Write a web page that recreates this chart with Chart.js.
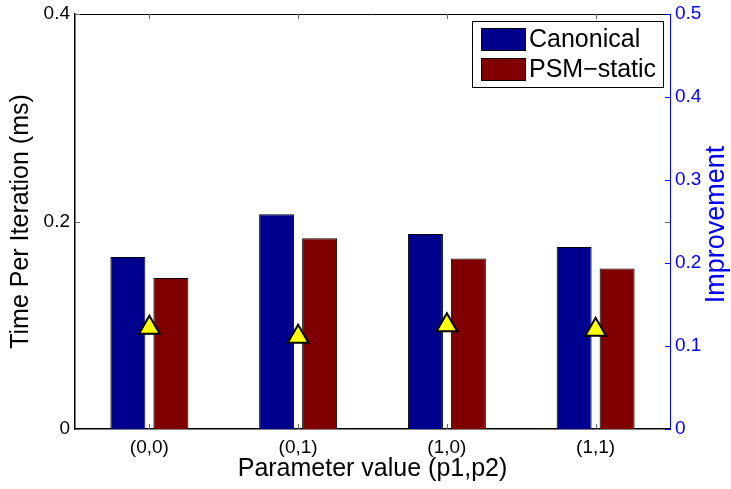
<!DOCTYPE html>
<html>
<head>
<meta charset="utf-8">
<title>Time per iteration</title>
<script src="https://cdn.jsdelivr.net/npm/chart.js@4/dist/chart.umd.min.js"></script>
<style>
  html, body { margin: 0; padding: 0; background: #ffffff; }
  #wrap { width: 731px; height: 489px; }
</style>
</head>
<body>
<div id="wrap"><canvas id="chart" width="731" height="489"></canvas></div>
<script>
// Parameter settings on the x axis
const categories = ['(0,0)', '(0,1)', '(1,0)', '(1,1)'];
// Time per iteration (ms)
const canonical = [0.1657, 0.2069, 0.188, 0.1755];
const psmStatic = [0.1455, 0.1839, 0.1643, 0.1547];
// Relative improvement (right axis)
const improvement = [0.122, 0.111, 0.125, 0.1195];
// Tick values
const leftTicks = [0, 0.2, 0.4];
const rightTicks = [0, 0.1, 0.2, 0.3, 0.4, 0.5];

const FONT = '"Liberation Sans", Arial, Helvetica, sans-serif';
const BLUE_AXIS = '#0000ff';

// Inward tick marks, top frame line, right-hand title and the boxed legend
const framePlugin = {
  id: 'frame',
  afterDraw(chart) {
    const ctx = chart.ctx;
    const a = chart.chartArea;
    const xs = chart.scales.x, ys = chart.scales.y, y1 = chart.scales.y1;
    const len = 5;
    ctx.save();
    // top frame
    ctx.strokeStyle = '#000000';
    ctx.lineWidth = 1;
    ctx.beginPath();
    ctx.moveTo(a.left, a.top + 0.5);
    ctx.lineTo(a.right, a.top + 0.5);
    ctx.stroke();

    // left-scale ticks, mirrored on the right side
    ctx.strokeStyle = '#666666';
    ctx.beginPath();
    leftTicks.forEach(v => {
      const py = Math.round(ys.getPixelForValue(v)) + 0.5;
      ctx.moveTo(a.left, py); ctx.lineTo(a.left + len, py);
      ctx.moveTo(a.right, py); ctx.lineTo(a.right - len, py);
    });
    // category ticks, bottom and top
    categories.forEach((c, i) => {
      const px = Math.round(xs.getPixelForValue(i)) + 0.5;
      ctx.moveTo(px, a.bottom); ctx.lineTo(px, a.bottom - len);
      ctx.moveTo(px, a.top); ctx.lineTo(px, a.top + len);
    });
    ctx.stroke();

    // right-scale ticks
    ctx.strokeStyle = BLUE_AXIS;
    ctx.beginPath();
    rightTicks.forEach(v => {
      const py = Math.round(y1.getPixelForValue(v)) + 0.5;
      ctx.moveTo(a.right, py); ctx.lineTo(a.right - len, py);
    });
    ctx.stroke();

    // right axis title, reading bottom to top
    ctx.fillStyle = BLUE_AXIS;
    ctx.font = '27px ' + FONT;
    ctx.textAlign = 'center';
    ctx.textBaseline = 'middle';
    ctx.translate(717, (a.top + a.bottom) / 2 + 3);
    ctx.rotate(-Math.PI / 2);
    ctx.fillText('Improvement', 0, 0);
    ctx.restore();

    // legend box for the bar series
    ctx.save();
    const bw = 191, bh = 66;
    const bx = a.right - 7 - bw, by = a.top + 7;
    ctx.fillStyle = '#ffffff';
    ctx.fillRect(bx, by, bw, bh);
    ctx.strokeStyle = '#000000';
    ctx.lineWidth = 1;
    ctx.strokeRect(bx + 0.5, by + 0.5, bw, bh);
    ctx.font = '25px ' + FONT;
    ctx.textAlign = 'left';
    ctx.textBaseline = 'middle';
    const bars = chart.data.datasets.filter(d => d.type === 'bar');
    bars.forEach((d, i) => {
      const sy = by + 7 + i * 30;
      ctx.fillStyle = d.backgroundColor;
      ctx.fillRect(bx + 9, sy, 44, 22);
      ctx.strokeStyle = '#000000';
      ctx.strokeRect(bx + 9.5, sy + 0.5, 44, 22);
      ctx.fillStyle = '#000000';
      ctx.fillText(d.label, bx + 57, sy + 12);
    });
    ctx.restore();
  }
};

// Fixed axis sizes; label overflow is allowed into the page margins
function fixVertical(width) {
  return scale => {
    scale.width = width;
    scale.paddingTop = 0;
    scale.paddingBottom = 0;
  };
}

new Chart(document.getElementById('chart'), {
  data: {
    labels: categories,
    datasets: [
      {
        type: 'line',
        label: 'Improvement',
        data: improvement,
        yAxisID: 'y1',
        showLine: false,
        pointStyle: 'triangle',
        pointRadius: 12,
        pointHoverRadius: 12,
        pointBackgroundColor: '#ffff00',
        pointBorderColor: '#000000',
        pointBorderWidth: 2,
        order: 0
      },
      {
        type: 'bar',
        label: 'Canonical',
        data: canonical,
        yAxisID: 'y',
        backgroundColor: '#00008f',
        borderColor: '#000000',
        borderWidth: 1,
        barPercentage: 0.814,
        categoryPercentage: 0.578,
        order: 1
      },
      {
        type: 'bar',
        label: 'PSM\u2212static',
        data: psmStatic,
        yAxisID: 'y',
        backgroundColor: '#800000',
        borderColor: '#000000',
        borderWidth: 1,
        barPercentage: 0.814,
        categoryPercentage: 0.578,
        order: 1
      }
    ]
  },
  options: {
    responsive: false,
    animation: false,
    devicePixelRatio: 1,
    layout: { padding: { top: 12, left: 0, right: 0, bottom: 0 } },
    plugins: {
      legend: { display: false },
      tooltip: { enabled: false }
    },
    scales: {
      x: {
        type: 'category',
        offset: true,
        grid: { display: false, drawTicks: false },
        border: { display: true, color: '#000000', width: 1.5 },
        ticks: { color: '#000000', font: { family: FONT, size: 19 }, padding: 7, maxRotation: 0 },
        title: {
          display: true,
          text: 'Parameter value (p1,p2)',
          color: '#000000',
          font: { family: FONT, size: 25 },
          padding: { top: 0, bottom: 5 }
        },
        afterFit(scale) { scale.height = 60; }
      },
      y: {
        position: 'left',
        min: 0,
        max: 0.4,
        grid: { display: false, drawTicks: false },
        border: { display: true, color: '#000000', width: 1.5 },
        ticks: { color: '#000000', font: { family: FONT, size: 19 }, padding: 5 },
        afterBuildTicks(scale) { scale.ticks = leftTicks.map(v => ({ value: v })); },
        title: {
          display: true,
          text: 'Time Per Iteration (ms)',
          color: '#000000',
          font: { family: FONT, size: 25 },
          padding: { top: 6, bottom: 0 }
        },
        afterFit: fixVertical(75)
      },
      y1: {
        position: 'right',
        min: 0,
        max: 0.5,
        grid: { display: false, drawTicks: false },
        border: { display: true, color: BLUE_AXIS, width: 1 },
        ticks: { color: BLUE_AXIS, font: { family: FONT, size: 19 }, padding: 5 },
        afterBuildTicks(scale) { scale.ticks = rightTicks.map(v => ({ value: v })); },
        afterFit: fixVertical(61)
      }
    }
  },
  plugins: [framePlugin]
});
</script>
</body>
</html>
